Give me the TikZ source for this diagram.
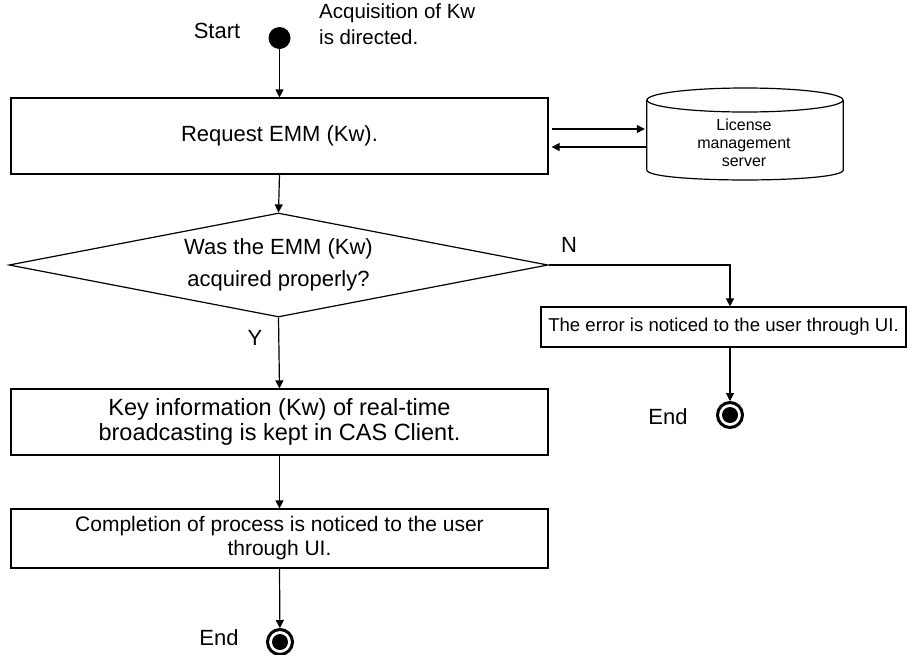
\documentclass[tikz,border=0pt]{standalone}
\usepackage{fontspec}
\setmainfont{Liberation Sans}
\usetikzlibrary{shapes.geometric,arrows.meta}
\tikzset{
  box/.style={draw, line width=1.2pt, rectangle, inner sep=0pt, align=center},
  arr/.style={-{Triangle[length=8pt,width=8pt]}, line width=1.2pt},
  lbl/.style={inner sep=0pt, font=\fontsize{22}{26}\selectfont},
  endring/.style={circle, draw, line width=3pt, minimum size=25pt, inner sep=0pt},
  enddot/.style={circle, fill, minimum size=16pt, inner sep=0pt},
  startdot/.style={circle, fill, minimum size=22pt, inner sep=0pt},
}
\begin{document}
\begin{tikzpicture}[x=1pt,y=-1pt]
\useasboundingbox (0,0) rectangle (907,654);
% start
\node[startdot] (start) at (279.5,38) {};
\node[lbl] (startlbl) at (217,31) {Start};
\node[lbl, anchor=north west, align=left, font=\fontsize{20.5}{26}\selectfont] (acq) at (319,3) {Acquisition of Kw\\is directed.};
% request box
\node[box, minimum width=537pt, minimum height=76pt, font=\fontsize{22}{26}\selectfont] (req) at (279.5,136) {Request EMM (Kw).};
\draw[arr] (start) -- (start |- req.north);
% server cylinder
\node[minimum width=196pt, minimum height=92pt, inner sep=0pt] (srv) at (745,134) {};
\draw[line width=1.2pt, fill=white] (srv.west |- 0,100) -- (srv.west |- 0,170)
   .. controls (647,183.3) and (843,183.3) .. (srv.east |- 0,170) -- (srv.east |- 0,100);
\draw[line width=1.2pt] (745,100) ellipse [x radius=98, y radius=12];
\node[inner sep=0pt, align=center, font=\fontsize{16}{18}\selectfont] (srvtxt) at (744,143) {License\\management\\server};
\coordinate (ya) at (0,129);
\coordinate (yb) at (0,147);
\draw[arr] ([xshift=3pt]req.east |- ya) -- ([xshift=-2pt]srv.west |- ya);
\draw[arr] (srv.west |- yb) -- ([xshift=3pt]req.east |- yb);
% decision
\node[diamond, draw, line width=1.2pt, inner sep=0pt, shape aspect=5.2, minimum width=539pt, minimum height=104pt, align=center, font=\fontsize{22}{32}\selectfont] (dia) at (278.5,265) {Was the EMM (Kw)\\acquired properly?};
\draw[arr] (req.south) -- (dia.north);
\node[lbl] (nlbl) at (569,245) {N};
\node[lbl] (ylbl) at (255,338) {Y};
% error branch
\node[box, minimum width=365pt, minimum height=40pt, font=\fontsize{18.6}{21}\selectfont] (err) at (723.5,327) {The error is noticed to the user through UI.};
\node[endring] (end1) at (730,415) {};
\node[enddot] (end1dot) at (end1) {};
\node[lbl] (end1lbl) at (668,417) {End};
\draw[arr] (dia.east) -| (end1 |- err.north);
\draw[arr] (end1 |- err.south) -- (end1);
% key box
\node[box, minimum width=537pt, minimum height=66pt, font=\fontsize{23.5}{25}\selectfont] (key) at (279.5,422) {Key information (Kw) of real-time\\broadcasting is kept in CAS Client.};
\draw[arr] (dia.south) -- (key.north);
% completion
\node[box, minimum width=537pt, minimum height=59pt, font=\fontsize{21}{24}\selectfont] (comp) at (279.5,538.5) {Completion of process is noticed to the user\\through UI.};
\draw[arr] (key.south) -- (comp.north);
\node[endring] (end2) at (280,642) {};
\node[enddot] (end2dot) at (end2) {};
\node[lbl] (end2lbl) at (219,638) {End};
\draw[arr] (comp.south) -- (end2);
\end{tikzpicture}
\end{document}
